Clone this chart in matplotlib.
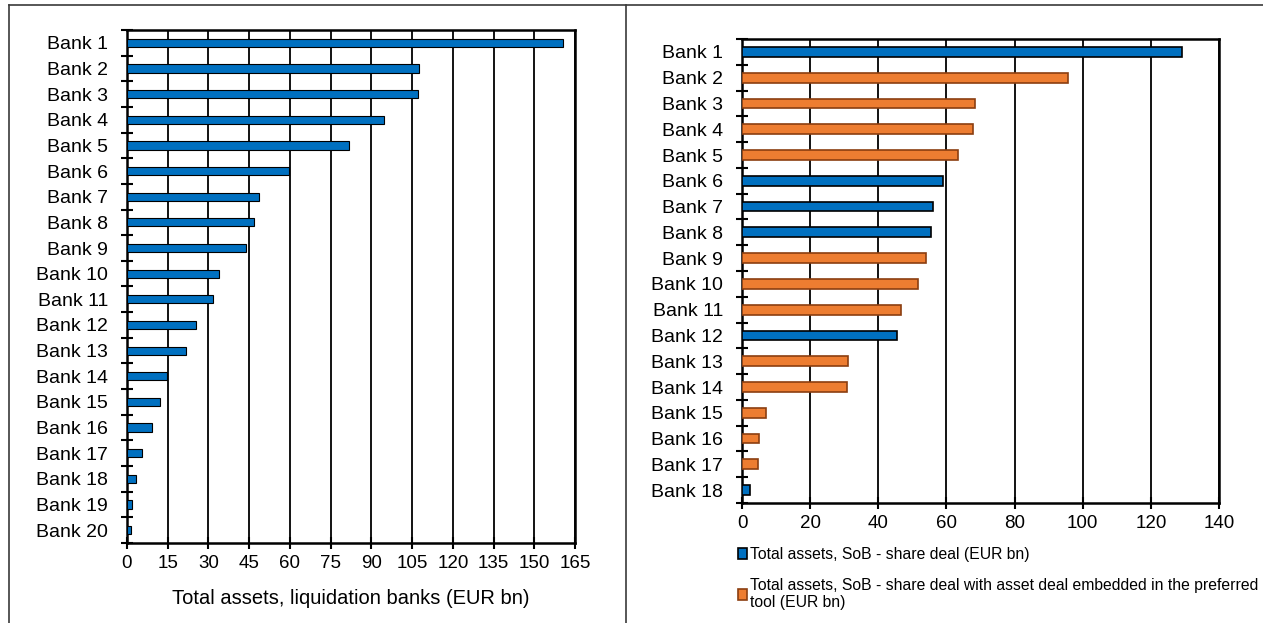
import matplotlib
matplotlib.use("Agg")
import matplotlib.pyplot as plt
from matplotlib.patches import Patch
from matplotlib.lines import Line2D
import numpy as np

plt.rcParams['font.family'] = ['Liberation Sans', 'DejaVu Sans']

# Liquidation banks
liq_banks = [f"Bank {i}" for i in range(1, 21)]
liq_assets = [160.4, 107.7, 107.0, 94.6, 81.8, 59.7, 48.8, 46.9, 43.9, 34.0,
              31.7, 25.4, 21.6, 14.9, 12.1, 9.2, 5.5, 3.4, 2.0, 1.3]
liq_ticks = list(range(0, 166, 15))

# Sale of business banks
sob_banks = [f"Bank {i}" for i in range(1, 19)]
sob_assets = [129.1, 95.8, 68.5, 67.8, 63.5, 59.1, 56.1, 55.5, 53.9, 51.6,
              46.6, 45.6, 31.2, 30.8, 7.0, 5.0, 4.8, 2.4]
# "share" = share deal, "embedded" = share deal with asset deal embedded
sob_tool = ["share", "embedded", "embedded", "embedded", "embedded", "share",
            "share", "share", "embedded", "embedded", "embedded", "share",
            "embedded", "embedded", "embedded", "embedded", "embedded", "share"]
sob_ticks = list(range(0, 141, 20))

legend_labels = ["Total assets, SoB - share deal (EUR bn)",
                 "Total assets, SoB - share deal with asset deal embedded in the preferred\ntool (EUR bn)"]

BLUE = "#0070C0"
ORANGE = "#ED7D31"
ORANGE_EDGE = "#8B3E10"

W, H = 1263, 623
fig = plt.figure(figsize=(W / 100, H / 100), dpi=100)


def style_axes(ax, labels, ticks):
    n = len(labels)
    ax.set_ylim(n - 0.5, -0.5)
    ax.set_xlim(ticks[0], ticks[-1])
    ax.set_xticks(ticks)
    ax.set_yticks(np.arange(n))
    ax.set_yticklabels(labels, fontsize=14)
    ax.set_yticks(np.arange(-0.5, n, 1.0), minor=True)
    ax.tick_params(axis='y', which='major', length=0, pad=13.5)
    ax.tick_params(axis='y', which='minor', direction='inout', length=8, width=1.5)
    ax.tick_params(axis='x', which='major', direction='inout', length=8, width=1.5,
                   labelsize=13.5, pad=5)
    ax.grid(axis='x', color='black', linewidth=1.3)
    ax.set_axisbelow(True)
    for s in ax.spines.values():
        s.set_linewidth(1.8)
        s.set_color('black')


# Left panel
ax1 = fig.add_axes([127 / W, 1 - 543 / H, (575 - 127) / W, (543 - 30) / H])
y1 = np.arange(len(liq_banks))
ax1.barh(y1, liq_assets, height=0.32, color=BLUE, edgecolor='black', linewidth=0.8, zorder=3)
style_axes(ax1, liq_banks, liq_ticks)
ax1.set_xlabel("Total assets, liquidation banks (EUR bn)", fontsize=14.5, labelpad=12)

# Right panel
ax2 = fig.add_axes([742 / W, 1 - 503 / H, (1219 - 742) / W, (503 - 39) / H])
y2 = np.arange(len(sob_banks))
vals = np.array(sob_assets)
tool = np.array(sob_tool)
m_share = tool == "share"
m_emb = tool == "embedded"
ax2.barh(y2[m_share], vals[m_share], height=0.38, color=BLUE, edgecolor='black',
         linewidth=1.2, zorder=3)
ax2.barh(y2[m_emb], vals[m_emb], height=0.38, color=ORANGE, edgecolor=ORANGE_EDGE,
         linewidth=1.2, zorder=3)
style_axes(ax2, sob_banks, sob_ticks)

handles = [Patch(facecolor=BLUE, edgecolor='black', linewidth=1.2),
           Patch(facecolor=ORANGE, edgecolor=ORANGE_EDGE, linewidth=1.2)]
fig.legend(handles, legend_labels, loc='upper left',
           bbox_to_anchor=(738 / W, 1 - 547 / H), frameon=False, fontsize=11.3,
           handlelength=0.6, handleheight=0.7, handletextpad=0.15,
           labelspacing=1.0, borderaxespad=0, borderpad=0)

# Panel frame lines
frame_kw = dict(color='#3a3a3a', linewidth=1.2, transform=fig.transFigure)
fig.add_artist(Line2D([9 / W, 1], [1 - 5 / H, 1 - 5 / H], **frame_kw))
fig.add_artist(Line2D([9 / W, 9 / W], [0, 1 - 5 / H], **frame_kw))
fig.add_artist(Line2D([626 / W, 626 / W], [0, 1 - 5 / H], **frame_kw))

fig.savefig("out.png", dpi=100)
